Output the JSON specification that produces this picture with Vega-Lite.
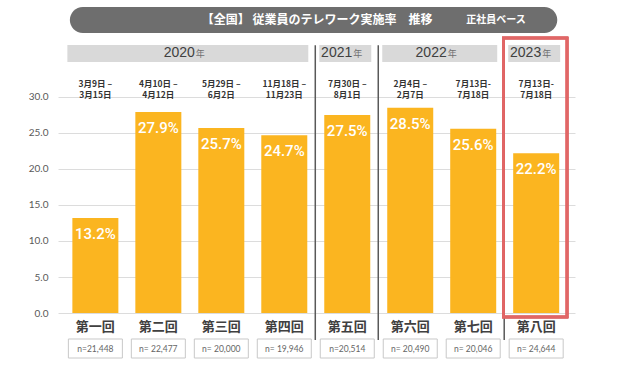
{
  "$schema": "https://vega.github.io/schema/vega-lite/v6.json",
  "width": 517,
  "height": 366,
  "padding": {"left": 58, "right": 56, "top": 0, "bottom": 0},
  "autosize": {"type": "none"},
  "background": "white",
  "config": {"view": {"stroke": null}, "font": "Noto Sans CJK JP"},
  "datasets": {
    "rounds": [
      {"i": 1, "round": "第一回", "year": "2020", "dates": "3月9日 –\n3月15日", "rate": 13.2, "n": "n=21,448"},
      {"i": 2, "round": "第二回", "year": "2020", "dates": "4月10日 –\n4月12日", "rate": 27.9, "n": "n= 22,477"},
      {"i": 3, "round": "第三回", "year": "2020", "dates": "5月29日 –\n6月2日", "rate": 25.7, "n": "n= 20,000"},
      {"i": 4, "round": "第四回", "year": "2020", "dates": "11月18日 –\n11月23日", "rate": 24.7, "n": "n= 19,946"},
      {"i": 5, "round": "第五回", "year": "2021", "dates": "7月30日 –\n8月1日", "rate": 27.5, "n": "n=20,514"},
      {"i": 6, "round": "第六回", "year": "2022", "dates": "2月4日 –\n2月7日", "rate": 28.5, "n": "n= 20,490"},
      {"i": 7, "round": "第七回", "year": "2022", "dates": "7月13日-\n7月18日", "rate": 25.6, "n": "n= 20,046"},
      {"i": 8, "round": "第八回", "year": "2023", "dates": "7月13日-\n7月18日", "rate": 22.2, "n": "n= 24,644"}
    ],
    "title": [{"title": "【全国】 従業員のテレワーク実施率　推移", "sub": "正社員ベース"}]
  },
  "data": {"name": "rounds"},
  "layer": [
    {
      "mark": {"type": "bar", "width": 46, "color": "#FBB520"},
      "encoding": {
        "x": {"field": "i", "type": "quantitative", "scale": {"domain": [0.486, 8.537], "nice": false, "zero": false}, "axis": null},
        "y": {"field": "rate", "type": "quantitative", "scale": {"domain": [-7.36, 43.47], "nice": false, "zero": false},
          "axis": {"values": [0, 5, 10, 15, 20, 25, 30], "format": ".1f", "title": null, "domain": false, "ticks": false,
            "grid": true, "gridColor": "#dcdcdc", "gridWidth": 1, "labelPadding": 10, "labelFontSize": 10,
            "labelColor": "#595959", "labelFont": "Lato"}},
        "y2": {"datum": 0}
      }
    },
    {
      "mark": {"type": "text", "color": "white", "fontSize": 15, "font": "Roboto", "fontWeight": 500, "dy": 16, "baseline": "middle",
        "text": {"expr": "format(datum.rate, '.1f') + '%'"}},
      "encoding": {
        "x": {"field": "i", "type": "quantitative"},
        "y": {"field": "rate", "type": "quantitative"}
      }
    },
    {
      "transform": [
        {"aggregate": [{"op": "max", "field": "i", "as": "i1"}], "groupby": ["year"]},
        {"filter": "datum.year != '2023'"}
      ],
      "mark": {"type": "rule", "color": "#595959", "strokeWidth": 1.5, "xOffset": 31},
      "encoding": {
        "x": {"field": "i1", "type": "quantitative"},
        "y": {"datum": 37.2},
        "y2": {"datum": -3.75}
      }
    },
    {
      "transform": [
        {"aggregate": [{"op": "min", "field": "i", "as": "i0"}, {"op": "max", "field": "i", "as": "i1"}], "groupby": ["year"]}
      ],
      "mark": {"type": "rect", "color": "#d9d9d9", "xOffset": -28, "x2Offset": 24},
      "encoding": {
        "x": {"field": "i0", "type": "quantitative"},
        "x2": {"field": "i1"},
        "y": {"datum": 37.22},
        "y2": {"datum": 34.86}
      }
    },
    {
      "transform": [
        {"aggregate": [{"op": "mean", "field": "i", "as": "im"}], "groupby": ["year"]}
      ],
      "mark": {"type": "text", "color": "#404040", "fontSize": 14, "font": "Liberation Sans", "align": "right", "baseline": "alphabetic", "dx": 5},
      "encoding": {
        "x": {"field": "im", "type": "quantitative"},
        "y": {"datum": 35.5},
        "text": {"field": "year", "type": "nominal"}
      }
    },
    {
      "transform": [
        {"aggregate": [{"op": "mean", "field": "i", "as": "im"}], "groupby": ["year"]}
      ],
      "mark": {"type": "text", "color": "#707070", "fontSize": 9, "align": "left", "baseline": "alphabetic", "dx": 6},
      "encoding": {
        "x": {"field": "im", "type": "quantitative"},
        "y": {"datum": 35.5},
        "text": {"value": "年"}
      }
    },
    {
      "mark": {"type": "text", "color": "#333333", "fontSize": 8.5, "fontWeight": "bold", "lineBreak": "\n", "lineHeight": 11, "baseline": "middle"},
      "encoding": {
        "x": {"field": "i", "type": "quantitative"},
        "y": {"datum": 31.8},
        "text": {"field": "dates", "type": "nominal"}
      }
    },
    {
      "mark": {"type": "text", "color": "#404040", "fontSize": 13, "fontWeight": "bold", "baseline": "middle"},
      "encoding": {
        "x": {"field": "i", "type": "quantitative"},
        "y": {"datum": -1.94},
        "text": {"field": "round", "type": "nominal"}
      }
    },
    {
      "mark": {"type": "rect", "fill": "white", "stroke": "#c8c8c8", "strokeWidth": 1, "xOffset": -27, "x2Offset": 27},
      "encoding": {
        "x": {"field": "i", "type": "quantitative"},
        "x2": {"field": "i"},
        "y": {"datum": -3.61},
        "y2": {"datum": -6.25}
      }
    },
    {
      "mark": {"type": "text", "color": "#666666", "fontSize": 8.5, "font": "Lato", "baseline": "middle"},
      "encoding": {
        "x": {"field": "i", "type": "quantitative"},
        "y": {"datum": -4.93},
        "text": {"field": "n", "type": "nominal"}
      }
    },
    {
      "mark": {"type": "rect", "fillOpacity": 0, "stroke": "#e06666", "strokeWidth": 2.5, "strokeOpacity": 0.85},
      "encoding": {
        "x": {"datum": 7.478},
        "x2": {"datum": 8.49},
        "y": {"datum": 38.2},
        "y2": {"datum": -0.56}
      }
    },
    {
      "data": {"name": "title"},
      "mark": {"type": "rect", "color": "#6e6e6e", "cornerRadius": 13},
      "encoding": {
        "x": {"datum": 0.595},
        "x2": {"datum": 8.335},
        "y": {"datum": 42.5},
        "y2": {"datum": 38.9}
      }
    },
    {
      "data": {"name": "title"},
      "mark": {"type": "text", "color": "white", "fontSize": 12, "fontWeight": "bold", "baseline": "middle"},
      "encoding": {
        "x": {"datum": 4.52},
        "y": {"datum": 40.7},
        "text": {"field": "title", "type": "nominal"}
      }
    },
    {
      "data": {"name": "title"},
      "mark": {"type": "text", "color": "white", "fontSize": 10, "fontWeight": "bold", "baseline": "middle"},
      "encoding": {
        "x": {"datum": 7.36},
        "y": {"datum": 40.7},
        "text": {"field": "sub", "type": "nominal"}
      }
    }
  ]
}
